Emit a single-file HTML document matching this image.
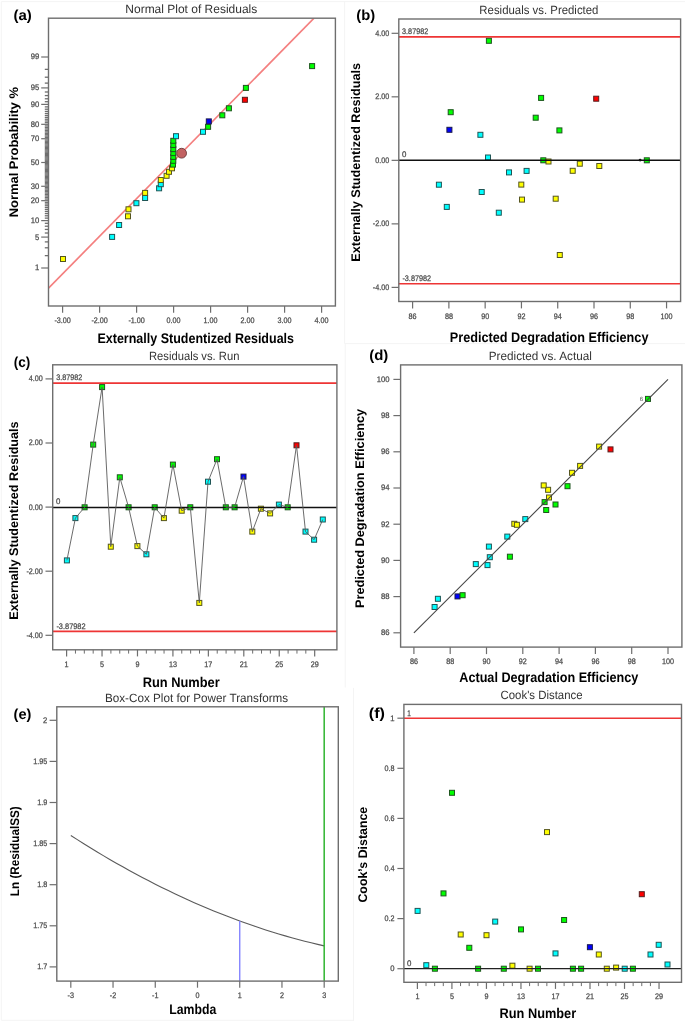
<!DOCTYPE html>
<html><head><meta charset="utf-8"><style>
html,body{margin:0;padding:0;background:#fff;}
svg{display:block;font-family:"Liberation Sans", sans-serif;filter:blur(0.4px);text-rendering:geometricPrecision;}
</style></head><body>
<svg width="685" height="1027" viewBox="0 0 685 1027">
<rect width="685" height="1027" fill="#fff"/>
<line x1="1.3" y1="1.6" x2="685" y2="1.6" stroke="#f4f4f4" stroke-width="1"/>
<line x1="1.3" y1="1.6" x2="1.3" y2="1020.3" stroke="#f4f4f4" stroke-width="1"/>
<line x1="344.6" y1="1.6" x2="344.6" y2="343.6" stroke="#f4f4f4" stroke-width="1"/>
<line x1="344.6" y1="343.6" x2="685" y2="343.6" stroke="#f4f4f4" stroke-width="1"/>
<line x1="345.2" y1="343.6" x2="345.2" y2="687.5" stroke="#f4f4f4" stroke-width="1"/>
<line x1="353.5" y1="687.9" x2="353.5" y2="1021" stroke="#f4f4f4" stroke-width="1"/>
<line x1="1.3" y1="1020.3" x2="353.5" y2="1020.3" stroke="#f4f4f4" stroke-width="1"/>
<clipPath id="ca"><rect x="48.5" y="18.2" width="286.9" height="287.8"/></clipPath>
<line x1="48.5" y1="288.2" x2="314" y2="18.2" stroke="#f47f7f" stroke-width="1.7" clip-path="url(#ca)"/>
<line x1="41.2" y1="268" x2="48.5" y2="268" stroke="#6e6e6e" stroke-width="1.2" />
<text x="39.3" y="270.43" font-size="8.0" text-anchor="end" textLength="4.26" lengthAdjust="spacingAndGlyphs" fill="#4a4a4a" stroke="#4a4a4a" stroke-width="0.25">1</text>
<line x1="44.8" y1="255.64" x2="48.5" y2="255.64" stroke="#6e6e6e" stroke-width="1.3" />
<line x1="44.8" y1="247.79" x2="48.5" y2="247.79" stroke="#6e6e6e" stroke-width="1.3" />
<line x1="44.8" y1="241.89" x2="48.5" y2="241.89" stroke="#6e6e6e" stroke-width="1.3" />
<line x1="41.2" y1="237.09" x2="48.5" y2="237.09" stroke="#6e6e6e" stroke-width="1.2" />
<text x="39.3" y="239.52" font-size="8.0" text-anchor="end" textLength="4.26" lengthAdjust="spacingAndGlyphs" fill="#4a4a4a" stroke="#4a4a4a" stroke-width="0.25">5</text>
<line x1="44.8" y1="233.01" x2="48.5" y2="233.01" stroke="#6e6e6e" stroke-width="1.3" />
<line x1="44.8" y1="229.43" x2="48.5" y2="229.43" stroke="#6e6e6e" stroke-width="1.3" />
<line x1="44.8" y1="226.22" x2="48.5" y2="226.22" stroke="#6e6e6e" stroke-width="1.3" />
<line x1="44.8" y1="223.3" x2="48.5" y2="223.3" stroke="#6e6e6e" stroke-width="1.3" />
<line x1="41.2" y1="220.62" x2="48.5" y2="220.62" stroke="#6e6e6e" stroke-width="1.2" />
<text x="39.3" y="223.05" font-size="8.0" text-anchor="end" textLength="8.52" lengthAdjust="spacingAndGlyphs" fill="#4a4a4a" stroke="#4a4a4a" stroke-width="0.25">10</text>
<line x1="44.8" y1="218.12" x2="48.5" y2="218.12" stroke="#6e6e6e" stroke-width="1.3" />
<line x1="44.8" y1="215.79" x2="48.5" y2="215.79" stroke="#6e6e6e" stroke-width="1.3" />
<line x1="44.8" y1="213.58" x2="48.5" y2="213.58" stroke="#6e6e6e" stroke-width="1.3" />
<line x1="44.8" y1="211.49" x2="48.5" y2="211.49" stroke="#6e6e6e" stroke-width="1.3" />
<line x1="44.8" y1="209.5" x2="48.5" y2="209.5" stroke="#6e6e6e" stroke-width="1.3" />
<line x1="44.8" y1="207.6" x2="48.5" y2="207.6" stroke="#6e6e6e" stroke-width="1.3" />
<line x1="44.8" y1="205.77" x2="48.5" y2="205.77" stroke="#6e6e6e" stroke-width="1.3" />
<line x1="44.8" y1="204.01" x2="48.5" y2="204.01" stroke="#6e6e6e" stroke-width="1.3" />
<line x1="44.8" y1="202.31" x2="48.5" y2="202.31" stroke="#6e6e6e" stroke-width="1.3" />
<line x1="41.2" y1="200.67" x2="48.5" y2="200.67" stroke="#6e6e6e" stroke-width="1.2" />
<text x="39.3" y="203.1" font-size="8.0" text-anchor="end" textLength="8.52" lengthAdjust="spacingAndGlyphs" fill="#4a4a4a" stroke="#4a4a4a" stroke-width="0.25">20</text>
<line x1="44.8" y1="199.07" x2="48.5" y2="199.07" stroke="#6e6e6e" stroke-width="1.3" />
<line x1="44.8" y1="197.52" x2="48.5" y2="197.52" stroke="#6e6e6e" stroke-width="1.3" />
<line x1="44.8" y1="196.01" x2="48.5" y2="196.01" stroke="#6e6e6e" stroke-width="1.3" />
<line x1="44.8" y1="194.53" x2="48.5" y2="194.53" stroke="#6e6e6e" stroke-width="1.3" />
<line x1="44.8" y1="193.09" x2="48.5" y2="193.09" stroke="#6e6e6e" stroke-width="1.3" />
<line x1="44.8" y1="191.68" x2="48.5" y2="191.68" stroke="#6e6e6e" stroke-width="1.3" />
<line x1="44.8" y1="190.29" x2="48.5" y2="190.29" stroke="#6e6e6e" stroke-width="1.3" />
<line x1="44.8" y1="188.93" x2="48.5" y2="188.93" stroke="#6e6e6e" stroke-width="1.3" />
<line x1="44.8" y1="187.6" x2="48.5" y2="187.6" stroke="#6e6e6e" stroke-width="1.3" />
<line x1="41.2" y1="186.28" x2="48.5" y2="186.28" stroke="#6e6e6e" stroke-width="1.2" />
<text x="39.3" y="188.71" font-size="8.0" text-anchor="end" textLength="8.52" lengthAdjust="spacingAndGlyphs" fill="#4a4a4a" stroke="#4a4a4a" stroke-width="0.25">30</text>
<line x1="44.8" y1="184.99" x2="48.5" y2="184.99" stroke="#6e6e6e" stroke-width="1.3" />
<line x1="44.8" y1="183.71" x2="48.5" y2="183.71" stroke="#6e6e6e" stroke-width="1.3" />
<line x1="44.8" y1="182.45" x2="48.5" y2="182.45" stroke="#6e6e6e" stroke-width="1.3" />
<line x1="44.8" y1="181.21" x2="48.5" y2="181.21" stroke="#6e6e6e" stroke-width="1.3" />
<line x1="44.8" y1="179.97" x2="48.5" y2="179.97" stroke="#6e6e6e" stroke-width="1.3" />
<line x1="44.8" y1="178.76" x2="48.5" y2="178.76" stroke="#6e6e6e" stroke-width="1.3" />
<line x1="44.8" y1="177.55" x2="48.5" y2="177.55" stroke="#6e6e6e" stroke-width="1.3" />
<line x1="44.8" y1="176.35" x2="48.5" y2="176.35" stroke="#6e6e6e" stroke-width="1.3" />
<line x1="44.8" y1="175.17" x2="48.5" y2="175.17" stroke="#6e6e6e" stroke-width="1.3" />
<line x1="44.8" y1="173.99" x2="48.5" y2="173.99" stroke="#6e6e6e" stroke-width="1.3" />
<line x1="44.8" y1="172.82" x2="48.5" y2="172.82" stroke="#6e6e6e" stroke-width="1.3" />
<line x1="44.8" y1="171.66" x2="48.5" y2="171.66" stroke="#6e6e6e" stroke-width="1.3" />
<line x1="44.8" y1="170.5" x2="48.5" y2="170.5" stroke="#6e6e6e" stroke-width="1.3" />
<line x1="44.8" y1="169.35" x2="48.5" y2="169.35" stroke="#6e6e6e" stroke-width="1.3" />
<line x1="44.8" y1="168.2" x2="48.5" y2="168.2" stroke="#6e6e6e" stroke-width="1.3" />
<line x1="44.8" y1="167.05" x2="48.5" y2="167.05" stroke="#6e6e6e" stroke-width="1.3" />
<line x1="44.8" y1="165.91" x2="48.5" y2="165.91" stroke="#6e6e6e" stroke-width="1.3" />
<line x1="44.8" y1="164.77" x2="48.5" y2="164.77" stroke="#6e6e6e" stroke-width="1.3" />
<line x1="44.8" y1="163.64" x2="48.5" y2="163.64" stroke="#6e6e6e" stroke-width="1.3" />
<line x1="41.2" y1="162.5" x2="48.5" y2="162.5" stroke="#6e6e6e" stroke-width="1.2" />
<text x="39.3" y="164.93" font-size="8.0" text-anchor="end" textLength="8.52" lengthAdjust="spacingAndGlyphs" fill="#4a4a4a" stroke="#4a4a4a" stroke-width="0.25">50</text>
<line x1="44.8" y1="161.36" x2="48.5" y2="161.36" stroke="#6e6e6e" stroke-width="1.3" />
<line x1="44.8" y1="160.23" x2="48.5" y2="160.23" stroke="#6e6e6e" stroke-width="1.3" />
<line x1="44.8" y1="159.09" x2="48.5" y2="159.09" stroke="#6e6e6e" stroke-width="1.3" />
<line x1="44.8" y1="157.95" x2="48.5" y2="157.95" stroke="#6e6e6e" stroke-width="1.3" />
<line x1="44.8" y1="156.8" x2="48.5" y2="156.8" stroke="#6e6e6e" stroke-width="1.3" />
<line x1="44.8" y1="155.65" x2="48.5" y2="155.65" stroke="#6e6e6e" stroke-width="1.3" />
<line x1="44.8" y1="154.5" x2="48.5" y2="154.5" stroke="#6e6e6e" stroke-width="1.3" />
<line x1="44.8" y1="153.34" x2="48.5" y2="153.34" stroke="#6e6e6e" stroke-width="1.3" />
<line x1="44.8" y1="152.18" x2="48.5" y2="152.18" stroke="#6e6e6e" stroke-width="1.3" />
<line x1="44.8" y1="151.01" x2="48.5" y2="151.01" stroke="#6e6e6e" stroke-width="1.3" />
<line x1="44.8" y1="149.83" x2="48.5" y2="149.83" stroke="#6e6e6e" stroke-width="1.3" />
<line x1="44.8" y1="148.65" x2="48.5" y2="148.65" stroke="#6e6e6e" stroke-width="1.3" />
<line x1="44.8" y1="147.45" x2="48.5" y2="147.45" stroke="#6e6e6e" stroke-width="1.3" />
<line x1="44.8" y1="146.24" x2="48.5" y2="146.24" stroke="#6e6e6e" stroke-width="1.3" />
<line x1="44.8" y1="145.03" x2="48.5" y2="145.03" stroke="#6e6e6e" stroke-width="1.3" />
<line x1="44.8" y1="143.79" x2="48.5" y2="143.79" stroke="#6e6e6e" stroke-width="1.3" />
<line x1="44.8" y1="142.55" x2="48.5" y2="142.55" stroke="#6e6e6e" stroke-width="1.3" />
<line x1="44.8" y1="141.29" x2="48.5" y2="141.29" stroke="#6e6e6e" stroke-width="1.3" />
<line x1="44.8" y1="140.01" x2="48.5" y2="140.01" stroke="#6e6e6e" stroke-width="1.3" />
<line x1="41.2" y1="138.72" x2="48.5" y2="138.72" stroke="#6e6e6e" stroke-width="1.2" />
<text x="39.3" y="141.15" font-size="8.0" text-anchor="end" textLength="8.52" lengthAdjust="spacingAndGlyphs" fill="#4a4a4a" stroke="#4a4a4a" stroke-width="0.25">70</text>
<line x1="44.8" y1="137.4" x2="48.5" y2="137.4" stroke="#6e6e6e" stroke-width="1.3" />
<line x1="44.8" y1="136.07" x2="48.5" y2="136.07" stroke="#6e6e6e" stroke-width="1.3" />
<line x1="44.8" y1="134.71" x2="48.5" y2="134.71" stroke="#6e6e6e" stroke-width="1.3" />
<line x1="44.8" y1="133.32" x2="48.5" y2="133.32" stroke="#6e6e6e" stroke-width="1.3" />
<line x1="44.8" y1="131.91" x2="48.5" y2="131.91" stroke="#6e6e6e" stroke-width="1.3" />
<line x1="44.8" y1="130.47" x2="48.5" y2="130.47" stroke="#6e6e6e" stroke-width="1.3" />
<line x1="44.8" y1="128.99" x2="48.5" y2="128.99" stroke="#6e6e6e" stroke-width="1.3" />
<line x1="44.8" y1="127.48" x2="48.5" y2="127.48" stroke="#6e6e6e" stroke-width="1.3" />
<line x1="44.8" y1="125.93" x2="48.5" y2="125.93" stroke="#6e6e6e" stroke-width="1.3" />
<line x1="41.2" y1="124.33" x2="48.5" y2="124.33" stroke="#6e6e6e" stroke-width="1.2" />
<text x="39.3" y="126.76" font-size="8.0" text-anchor="end" textLength="8.52" lengthAdjust="spacingAndGlyphs" fill="#4a4a4a" stroke="#4a4a4a" stroke-width="0.25">80</text>
<line x1="44.8" y1="122.69" x2="48.5" y2="122.69" stroke="#6e6e6e" stroke-width="1.3" />
<line x1="44.8" y1="120.99" x2="48.5" y2="120.99" stroke="#6e6e6e" stroke-width="1.3" />
<line x1="44.8" y1="119.23" x2="48.5" y2="119.23" stroke="#6e6e6e" stroke-width="1.3" />
<line x1="44.8" y1="117.4" x2="48.5" y2="117.4" stroke="#6e6e6e" stroke-width="1.3" />
<line x1="44.8" y1="115.5" x2="48.5" y2="115.5" stroke="#6e6e6e" stroke-width="1.3" />
<line x1="44.8" y1="113.51" x2="48.5" y2="113.51" stroke="#6e6e6e" stroke-width="1.3" />
<line x1="44.8" y1="111.42" x2="48.5" y2="111.42" stroke="#6e6e6e" stroke-width="1.3" />
<line x1="44.8" y1="109.21" x2="48.5" y2="109.21" stroke="#6e6e6e" stroke-width="1.3" />
<line x1="44.8" y1="106.88" x2="48.5" y2="106.88" stroke="#6e6e6e" stroke-width="1.3" />
<line x1="41.2" y1="104.38" x2="48.5" y2="104.38" stroke="#6e6e6e" stroke-width="1.2" />
<text x="39.3" y="106.81" font-size="8.0" text-anchor="end" textLength="8.52" lengthAdjust="spacingAndGlyphs" fill="#4a4a4a" stroke="#4a4a4a" stroke-width="0.25">90</text>
<line x1="44.8" y1="101.7" x2="48.5" y2="101.7" stroke="#6e6e6e" stroke-width="1.3" />
<line x1="44.8" y1="98.78" x2="48.5" y2="98.78" stroke="#6e6e6e" stroke-width="1.3" />
<line x1="44.8" y1="95.57" x2="48.5" y2="95.57" stroke="#6e6e6e" stroke-width="1.3" />
<line x1="44.8" y1="91.99" x2="48.5" y2="91.99" stroke="#6e6e6e" stroke-width="1.3" />
<line x1="41.2" y1="87.91" x2="48.5" y2="87.91" stroke="#6e6e6e" stroke-width="1.2" />
<text x="39.3" y="90.34" font-size="8.0" text-anchor="end" textLength="8.52" lengthAdjust="spacingAndGlyphs" fill="#4a4a4a" stroke="#4a4a4a" stroke-width="0.25">95</text>
<line x1="44.8" y1="83.11" x2="48.5" y2="83.11" stroke="#6e6e6e" stroke-width="1.3" />
<line x1="44.8" y1="77.21" x2="48.5" y2="77.21" stroke="#6e6e6e" stroke-width="1.3" />
<line x1="44.8" y1="69.36" x2="48.5" y2="69.36" stroke="#6e6e6e" stroke-width="1.3" />
<line x1="41.2" y1="57" x2="48.5" y2="57" stroke="#6e6e6e" stroke-width="1.2" />
<text x="39.3" y="59.43" font-size="8.0" text-anchor="end" textLength="8.52" lengthAdjust="spacingAndGlyphs" fill="#4a4a4a" stroke="#4a4a4a" stroke-width="0.25">99</text>
<line x1="62.6" y1="306" x2="62.6" y2="312.7" stroke="#6e6e6e" stroke-width="1.2" />
<text x="62.6" y="323.08" font-size="8.0" text-anchor="middle" textLength="16.41" lengthAdjust="spacingAndGlyphs" fill="#4a4a4a" stroke="#4a4a4a" stroke-width="0.25">-3.00</text>
<line x1="99.6" y1="306" x2="99.6" y2="312.7" stroke="#6e6e6e" stroke-width="1.2" />
<text x="99.6" y="323.08" font-size="8.0" text-anchor="middle" textLength="16.41" lengthAdjust="spacingAndGlyphs" fill="#4a4a4a" stroke="#4a4a4a" stroke-width="0.25">-2.00</text>
<line x1="136.6" y1="306" x2="136.6" y2="312.7" stroke="#6e6e6e" stroke-width="1.2" />
<text x="136.6" y="323.08" font-size="8.0" text-anchor="middle" textLength="16.41" lengthAdjust="spacingAndGlyphs" fill="#4a4a4a" stroke="#4a4a4a" stroke-width="0.25">-1.00</text>
<line x1="173.6" y1="306" x2="173.6" y2="312.7" stroke="#6e6e6e" stroke-width="1.2" />
<text x="173.6" y="323.08" font-size="8.0" text-anchor="middle" textLength="14.01" lengthAdjust="spacingAndGlyphs" fill="#4a4a4a" stroke="#4a4a4a" stroke-width="0.25">0.00</text>
<line x1="210.6" y1="306" x2="210.6" y2="312.7" stroke="#6e6e6e" stroke-width="1.2" />
<text x="210.6" y="323.08" font-size="8.0" text-anchor="middle" textLength="14.01" lengthAdjust="spacingAndGlyphs" fill="#4a4a4a" stroke="#4a4a4a" stroke-width="0.25">1.00</text>
<line x1="247.6" y1="306" x2="247.6" y2="312.7" stroke="#6e6e6e" stroke-width="1.2" />
<text x="247.6" y="323.08" font-size="8.0" text-anchor="middle" textLength="14.01" lengthAdjust="spacingAndGlyphs" fill="#4a4a4a" stroke="#4a4a4a" stroke-width="0.25">2.00</text>
<line x1="284.6" y1="306" x2="284.6" y2="312.7" stroke="#6e6e6e" stroke-width="1.2" />
<text x="284.6" y="323.08" font-size="8.0" text-anchor="middle" textLength="14.01" lengthAdjust="spacingAndGlyphs" fill="#4a4a4a" stroke="#4a4a4a" stroke-width="0.25">3.00</text>
<line x1="321.6" y1="306" x2="321.6" y2="312.7" stroke="#6e6e6e" stroke-width="1.2" />
<text x="321.6" y="323.08" font-size="8.0" text-anchor="middle" textLength="14.01" lengthAdjust="spacingAndGlyphs" fill="#4a4a4a" stroke="#4a4a4a" stroke-width="0.25">4.00</text>
<rect x="60.5" y="256.5" width="5.0" height="5.0" fill="#ffff00" stroke="#55551f" stroke-width="1.0"/>
<rect x="109.6" y="234.4" width="5.0" height="5.0" fill="#00ffff" stroke="#1f5555" stroke-width="1.0"/>
<rect x="116.6" y="222.5" width="5.0" height="5.0" fill="#00ffff" stroke="#1f5555" stroke-width="1.0"/>
<rect x="125.5" y="213.8" width="5.0" height="5.0" fill="#ffff00" stroke="#55551f" stroke-width="1.0"/>
<rect x="126" y="206.8" width="5.0" height="5.0" fill="#ffff00" stroke="#55551f" stroke-width="1.0"/>
<rect x="133.9" y="200.7" width="5.0" height="5.0" fill="#00ffff" stroke="#1f5555" stroke-width="1.0"/>
<rect x="142.6" y="195.5" width="5.0" height="5.0" fill="#00ffff" stroke="#1f5555" stroke-width="1.0"/>
<rect x="142.6" y="190.4" width="5.0" height="5.0" fill="#ffff00" stroke="#55551f" stroke-width="1.0"/>
<rect x="156.6" y="185.8" width="5.0" height="5.0" fill="#00ffff" stroke="#1f5555" stroke-width="1.0"/>
<rect x="158.3" y="181.7" width="5.0" height="5.0" fill="#00ffff" stroke="#1f5555" stroke-width="1.0"/>
<rect x="158.3" y="177.5" width="5.0" height="5.0" fill="#ffff00" stroke="#55551f" stroke-width="1.0"/>
<rect x="164.1" y="173.3" width="5.0" height="5.0" fill="#ffff00" stroke="#55551f" stroke-width="1.0"/>
<rect x="166.5" y="169.3" width="5.0" height="5.0" fill="#ffff00" stroke="#55551f" stroke-width="1.0"/>
<rect x="169.5" y="165.8" width="5.0" height="5.0" fill="#ffff00" stroke="#55551f" stroke-width="1.0"/>
<rect x="170.5" y="162.1" width="5.0" height="5.0" fill="#00ff00" stroke="#1f551f" stroke-width="1.0"/>
<rect x="170.8" y="158.3" width="5.0" height="5.0" fill="#00ff00" stroke="#1f551f" stroke-width="1.0"/>
<rect x="170.8" y="154.4" width="5.0" height="5.0" fill="#00ff00" stroke="#1f551f" stroke-width="1.0"/>
<rect x="170.8" y="150.6" width="5.0" height="5.0" fill="#00ff00" stroke="#1f551f" stroke-width="1.0"/>
<rect x="170.8" y="146.6" width="5.0" height="5.0" fill="#00ff00" stroke="#1f551f" stroke-width="1.0"/>
<rect x="170.8" y="142.5" width="5.0" height="5.0" fill="#00ff00" stroke="#1f551f" stroke-width="1.0"/>
<rect x="170.8" y="138.3" width="5.0" height="5.0" fill="#00ff00" stroke="#1f551f" stroke-width="1.0"/>
<rect x="173.5" y="133.7" width="5.0" height="5.0" fill="#00ffff" stroke="#1f5555" stroke-width="1.0"/>
<rect x="200.5" y="129.3" width="5.0" height="5.0" fill="#00ffff" stroke="#1f5555" stroke-width="1.0"/>
<rect x="205.6" y="124.3" width="5.0" height="5.0" fill="#00ff00" stroke="#1f551f" stroke-width="1.0"/>
<rect x="206.3" y="118.9" width="5.0" height="5.0" fill="#0000ff" stroke="#1a1a4a" stroke-width="1.0"/>
<rect x="219.8" y="112.8" width="5.0" height="5.0" fill="#00ff00" stroke="#1f551f" stroke-width="1.0"/>
<rect x="226.4" y="105.8" width="5.0" height="5.0" fill="#00ff00" stroke="#1f551f" stroke-width="1.0"/>
<rect x="242.4" y="97.3" width="5.0" height="5.0" fill="#ff0000" stroke="#551f1f" stroke-width="1.0"/>
<rect x="243.4" y="85.4" width="5.0" height="5.0" fill="#00ff00" stroke="#1f551f" stroke-width="1.0"/>
<rect x="309.6" y="63.6" width="5.0" height="5.0" fill="#00ff00" stroke="#1f551f" stroke-width="1.0"/>
<circle cx="181.6" cy="153.2" r="4.9" fill="#c26262" stroke="#6b3b3b" stroke-width="0.9"/>
<rect x="48.5" y="18.2" width="286.9" height="287.8" fill="none" stroke="#6e6e6e" stroke-width="1.4"/>
<text x="125.32" y="12.8" font-size="12" fill="#333" textLength="131.92" lengthAdjust="spacingAndGlyphs">Normal Plot of Residuals</text>
<text x="97.46" y="342.5" font-size="14.0" font-weight="bold" fill="#000" textLength="196.55" lengthAdjust="spacingAndGlyphs">Externally Studentized Residuals</text>
<text transform="translate(18.1,217.37) rotate(-90)" x="0" y="0" font-size="12.5" font-weight="bold" fill="#000" textLength="130.31" lengthAdjust="spacingAndGlyphs">Normal Probability %</text>
<text x="13.45" y="19.6" font-size="14.6" font-weight="bold" fill="#000" textLength="18.29" lengthAdjust="spacingAndGlyphs">(a)</text>
<line x1="391.6" y1="33.31" x2="398.8" y2="33.31" stroke="#6e6e6e" stroke-width="1.2" />
<text x="389.2" y="35.74" font-size="8.0" text-anchor="end" textLength="14.01" lengthAdjust="spacingAndGlyphs" fill="#4a4a4a" stroke="#4a4a4a" stroke-width="0.25">4.00</text>
<line x1="391.6" y1="96.83" x2="398.8" y2="96.83" stroke="#6e6e6e" stroke-width="1.2" />
<text x="389.2" y="99.26" font-size="8.0" text-anchor="end" textLength="14.01" lengthAdjust="spacingAndGlyphs" fill="#4a4a4a" stroke="#4a4a4a" stroke-width="0.25">2.00</text>
<line x1="391.6" y1="160.35" x2="398.8" y2="160.35" stroke="#6e6e6e" stroke-width="1.2" />
<text x="389.2" y="162.78" font-size="8.0" text-anchor="end" textLength="14.01" lengthAdjust="spacingAndGlyphs" fill="#4a4a4a" stroke="#4a4a4a" stroke-width="0.25">0.00</text>
<line x1="391.6" y1="223.87" x2="398.8" y2="223.87" stroke="#6e6e6e" stroke-width="1.2" />
<text x="389.2" y="226.3" font-size="8.0" text-anchor="end" textLength="16.41" lengthAdjust="spacingAndGlyphs" fill="#4a4a4a" stroke="#4a4a4a" stroke-width="0.25">-2.00</text>
<line x1="391.6" y1="287.39" x2="398.8" y2="287.39" stroke="#6e6e6e" stroke-width="1.2" />
<text x="389.2" y="289.82" font-size="8.0" text-anchor="end" textLength="16.41" lengthAdjust="spacingAndGlyphs" fill="#4a4a4a" stroke="#4a4a4a" stroke-width="0.25">-4.00</text>
<line x1="412.6" y1="301.5" x2="412.6" y2="308.4" stroke="#6e6e6e" stroke-width="1.2" />
<text x="412.6" y="318.68" font-size="8.0" text-anchor="middle" textLength="8.01" lengthAdjust="spacingAndGlyphs" fill="#4a4a4a" stroke="#4a4a4a" stroke-width="0.25">86</text>
<line x1="448.88" y1="301.5" x2="448.88" y2="308.4" stroke="#6e6e6e" stroke-width="1.2" />
<text x="448.88" y="318.68" font-size="8.0" text-anchor="middle" textLength="8.01" lengthAdjust="spacingAndGlyphs" fill="#4a4a4a" stroke="#4a4a4a" stroke-width="0.25">88</text>
<line x1="485.16" y1="301.5" x2="485.16" y2="308.4" stroke="#6e6e6e" stroke-width="1.2" />
<text x="485.16" y="318.68" font-size="8.0" text-anchor="middle" textLength="8.01" lengthAdjust="spacingAndGlyphs" fill="#4a4a4a" stroke="#4a4a4a" stroke-width="0.25">90</text>
<line x1="521.44" y1="301.5" x2="521.44" y2="308.4" stroke="#6e6e6e" stroke-width="1.2" />
<text x="521.44" y="318.68" font-size="8.0" text-anchor="middle" textLength="8.01" lengthAdjust="spacingAndGlyphs" fill="#4a4a4a" stroke="#4a4a4a" stroke-width="0.25">92</text>
<line x1="557.72" y1="301.5" x2="557.72" y2="308.4" stroke="#6e6e6e" stroke-width="1.2" />
<text x="557.72" y="318.68" font-size="8.0" text-anchor="middle" textLength="8.01" lengthAdjust="spacingAndGlyphs" fill="#4a4a4a" stroke="#4a4a4a" stroke-width="0.25">94</text>
<line x1="594" y1="301.5" x2="594" y2="308.4" stroke="#6e6e6e" stroke-width="1.2" />
<text x="594" y="318.68" font-size="8.0" text-anchor="middle" textLength="8.01" lengthAdjust="spacingAndGlyphs" fill="#4a4a4a" stroke="#4a4a4a" stroke-width="0.25">96</text>
<line x1="630.28" y1="301.5" x2="630.28" y2="308.4" stroke="#6e6e6e" stroke-width="1.2" />
<text x="630.28" y="318.68" font-size="8.0" text-anchor="middle" textLength="8.01" lengthAdjust="spacingAndGlyphs" fill="#4a4a4a" stroke="#4a4a4a" stroke-width="0.25">98</text>
<line x1="666.56" y1="301.5" x2="666.56" y2="308.4" stroke="#6e6e6e" stroke-width="1.2" />
<text x="666.56" y="318.68" font-size="8.0" text-anchor="middle" textLength="12.01" lengthAdjust="spacingAndGlyphs" fill="#4a4a4a" stroke="#4a4a4a" stroke-width="0.25">100</text>
<line x1="398.8" y1="36.9" x2="680.6" y2="36.9" stroke="#ee3535" stroke-width="1.6" />
<line x1="398.8" y1="283.8" x2="680.6" y2="283.8" stroke="#ee3535" stroke-width="1.6" />
<text x="402.1" y="33.92" font-size="8.1" textLength="26.1" lengthAdjust="spacingAndGlyphs" fill="#4a4a4a" stroke="#4a4a4a" stroke-width="0.25">3.87982</text>
<text x="402.4" y="281.12" font-size="8.1" textLength="28.7" lengthAdjust="spacingAndGlyphs" fill="#4a4a4a" stroke="#4a4a4a" stroke-width="0.25">-3.87982</text>
<text x="402.1" y="156.92" font-size="8.1" textLength="4.4" lengthAdjust="spacingAndGlyphs" fill="#4a4a4a" stroke="#4a4a4a" stroke-width="0.25">0</text>
<rect x="486.4" y="38.3" width="5.0" height="5.0" fill="#00ff00" stroke="#1f551f" stroke-width="1.0"/>
<rect x="538.6" y="95.4" width="5.0" height="5.0" fill="#00ff00" stroke="#1f551f" stroke-width="1.0"/>
<rect x="593.7" y="96.2" width="5.0" height="5.0" fill="#ff0000" stroke="#551f1f" stroke-width="1.0"/>
<rect x="448.2" y="109.7" width="5.0" height="5.0" fill="#00ff00" stroke="#1f551f" stroke-width="1.0"/>
<rect x="533.2" y="115.2" width="5.0" height="5.0" fill="#00ff00" stroke="#1f551f" stroke-width="1.0"/>
<rect x="446.9" y="127.3" width="5.0" height="5.0" fill="#0000ff" stroke="#1a1a4a" stroke-width="1.0"/>
<rect x="556.9" y="127.9" width="5.0" height="5.0" fill="#00ff00" stroke="#1f551f" stroke-width="1.0"/>
<rect x="477.9" y="132.3" width="5.0" height="5.0" fill="#00ffff" stroke="#1f5555" stroke-width="1.0"/>
<rect x="485.5" y="155" width="5.0" height="5.0" fill="#00ffff" stroke="#1f5555" stroke-width="1.0"/>
<rect x="540.8" y="157.8" width="5.0" height="5.0" fill="#00ff00" stroke="#1f551f" stroke-width="1.0"/>
<rect x="546" y="159" width="5.0" height="5.0" fill="#ffff00" stroke="#55551f" stroke-width="1.0"/>
<rect x="577.3" y="161.2" width="5.0" height="5.0" fill="#ffff00" stroke="#55551f" stroke-width="1.0"/>
<rect x="596.8" y="163.5" width="5.0" height="5.0" fill="#ffff00" stroke="#55551f" stroke-width="1.0"/>
<rect x="644.3" y="157.8" width="5.0" height="5.0" fill="#00ff00" stroke="#1f551f" stroke-width="1.0"/>
<rect x="506.5" y="169.9" width="5.0" height="5.0" fill="#00ffff" stroke="#1f5555" stroke-width="1.0"/>
<rect x="524.1" y="168.4" width="5.0" height="5.0" fill="#00ffff" stroke="#1f5555" stroke-width="1.0"/>
<rect x="570.2" y="168.3" width="5.0" height="5.0" fill="#ffff00" stroke="#55551f" stroke-width="1.0"/>
<rect x="436.4" y="182.2" width="5.0" height="5.0" fill="#00ffff" stroke="#1f5555" stroke-width="1.0"/>
<rect x="518.8" y="182.1" width="5.0" height="5.0" fill="#ffff00" stroke="#55551f" stroke-width="1.0"/>
<rect x="479.2" y="189.5" width="5.0" height="5.0" fill="#00ffff" stroke="#1f5555" stroke-width="1.0"/>
<rect x="519.5" y="197.1" width="5.0" height="5.0" fill="#ffff00" stroke="#55551f" stroke-width="1.0"/>
<rect x="553.2" y="196.2" width="5.0" height="5.0" fill="#ffff00" stroke="#55551f" stroke-width="1.0"/>
<rect x="444.3" y="204.4" width="5.0" height="5.0" fill="#00ffff" stroke="#1f5555" stroke-width="1.0"/>
<rect x="496.3" y="210.2" width="5.0" height="5.0" fill="#00ffff" stroke="#1f5555" stroke-width="1.0"/>
<rect x="557.3" y="252.5" width="5.0" height="5.0" fill="#ffff00" stroke="#55551f" stroke-width="1.0"/>
<line x1="398.8" y1="160.3" x2="680.6" y2="160.3" stroke="#111" stroke-width="1.4" />
<circle cx="640.1" cy="160.1" r="1.4" fill="#111"/>
<rect x="398.8" y="19" width="281.8" height="282.5" fill="none" stroke="#6e6e6e" stroke-width="1.4"/>
<text x="479.37" y="13.6" font-size="12" fill="#333" textLength="119.07" lengthAdjust="spacingAndGlyphs">Residuals vs. Predicted</text>
<text x="449.85" y="341.7" font-size="14.0" font-weight="bold" fill="#000" textLength="198.62" lengthAdjust="spacingAndGlyphs">Predicted Degradation Efficiency</text>
<text transform="translate(360.4,261.75) rotate(-90)" x="0" y="0" font-size="12.5" font-weight="bold" fill="#000" textLength="198.86" lengthAdjust="spacingAndGlyphs">Externally Studentized Residuals</text>
<text x="356.26" y="19.7" font-size="14.6" font-weight="bold" fill="#000" textLength="18.87" lengthAdjust="spacingAndGlyphs">(b)</text>
<line x1="45.5" y1="378.9" x2="52.7" y2="378.9" stroke="#6e6e6e" stroke-width="1.2" />
<text x="42.8" y="381.33" font-size="8.0" text-anchor="end" textLength="14.01" lengthAdjust="spacingAndGlyphs" fill="#4a4a4a" stroke="#4a4a4a" stroke-width="0.25">4.00</text>
<line x1="45.5" y1="443" x2="52.7" y2="443" stroke="#6e6e6e" stroke-width="1.2" />
<text x="42.8" y="445.43" font-size="8.0" text-anchor="end" textLength="14.01" lengthAdjust="spacingAndGlyphs" fill="#4a4a4a" stroke="#4a4a4a" stroke-width="0.25">2.00</text>
<line x1="45.5" y1="507.1" x2="52.7" y2="507.1" stroke="#6e6e6e" stroke-width="1.2" />
<text x="42.8" y="509.53" font-size="8.0" text-anchor="end" textLength="14.01" lengthAdjust="spacingAndGlyphs" fill="#4a4a4a" stroke="#4a4a4a" stroke-width="0.25">0.00</text>
<line x1="45.5" y1="571.2" x2="52.7" y2="571.2" stroke="#6e6e6e" stroke-width="1.2" />
<text x="42.8" y="573.63" font-size="8.0" text-anchor="end" textLength="16.41" lengthAdjust="spacingAndGlyphs" fill="#4a4a4a" stroke="#4a4a4a" stroke-width="0.25">-2.00</text>
<line x1="45.5" y1="635.3" x2="52.7" y2="635.3" stroke="#6e6e6e" stroke-width="1.2" />
<text x="42.8" y="637.73" font-size="8.0" text-anchor="end" textLength="16.41" lengthAdjust="spacingAndGlyphs" fill="#4a4a4a" stroke="#4a4a4a" stroke-width="0.25">-4.00</text>
<line x1="66.6" y1="649.8" x2="66.6" y2="656.4" stroke="#6e6e6e" stroke-width="1.2" />
<text x="66.6" y="666.98" font-size="8.0" text-anchor="middle" textLength="4" lengthAdjust="spacingAndGlyphs" fill="#4a4a4a" stroke="#4a4a4a" stroke-width="0.25">1</text>
<line x1="75.46" y1="649.8" x2="75.46" y2="653.6" stroke="#6e6e6e" stroke-width="1.0" />
<line x1="84.32" y1="649.8" x2="84.32" y2="653.6" stroke="#6e6e6e" stroke-width="1.0" />
<line x1="93.18" y1="649.8" x2="93.18" y2="653.6" stroke="#6e6e6e" stroke-width="1.0" />
<line x1="102.04" y1="649.8" x2="102.04" y2="656.4" stroke="#6e6e6e" stroke-width="1.2" />
<text x="102.04" y="666.98" font-size="8.0" text-anchor="middle" textLength="4" lengthAdjust="spacingAndGlyphs" fill="#4a4a4a" stroke="#4a4a4a" stroke-width="0.25">5</text>
<line x1="110.9" y1="649.8" x2="110.9" y2="653.6" stroke="#6e6e6e" stroke-width="1.0" />
<line x1="119.76" y1="649.8" x2="119.76" y2="653.6" stroke="#6e6e6e" stroke-width="1.0" />
<line x1="128.62" y1="649.8" x2="128.62" y2="653.6" stroke="#6e6e6e" stroke-width="1.0" />
<line x1="137.48" y1="649.8" x2="137.48" y2="656.4" stroke="#6e6e6e" stroke-width="1.2" />
<text x="137.48" y="666.98" font-size="8.0" text-anchor="middle" textLength="4" lengthAdjust="spacingAndGlyphs" fill="#4a4a4a" stroke="#4a4a4a" stroke-width="0.25">9</text>
<line x1="146.34" y1="649.8" x2="146.34" y2="653.6" stroke="#6e6e6e" stroke-width="1.0" />
<line x1="155.2" y1="649.8" x2="155.2" y2="653.6" stroke="#6e6e6e" stroke-width="1.0" />
<line x1="164.06" y1="649.8" x2="164.06" y2="653.6" stroke="#6e6e6e" stroke-width="1.0" />
<line x1="172.92" y1="649.8" x2="172.92" y2="656.4" stroke="#6e6e6e" stroke-width="1.2" />
<text x="172.92" y="666.98" font-size="8.0" text-anchor="middle" textLength="8.01" lengthAdjust="spacingAndGlyphs" fill="#4a4a4a" stroke="#4a4a4a" stroke-width="0.25">13</text>
<line x1="181.78" y1="649.8" x2="181.78" y2="653.6" stroke="#6e6e6e" stroke-width="1.0" />
<line x1="190.64" y1="649.8" x2="190.64" y2="653.6" stroke="#6e6e6e" stroke-width="1.0" />
<line x1="199.5" y1="649.8" x2="199.5" y2="653.6" stroke="#6e6e6e" stroke-width="1.0" />
<line x1="208.36" y1="649.8" x2="208.36" y2="656.4" stroke="#6e6e6e" stroke-width="1.2" />
<text x="208.36" y="666.98" font-size="8.0" text-anchor="middle" textLength="8.01" lengthAdjust="spacingAndGlyphs" fill="#4a4a4a" stroke="#4a4a4a" stroke-width="0.25">17</text>
<line x1="217.22" y1="649.8" x2="217.22" y2="653.6" stroke="#6e6e6e" stroke-width="1.0" />
<line x1="226.08" y1="649.8" x2="226.08" y2="653.6" stroke="#6e6e6e" stroke-width="1.0" />
<line x1="234.94" y1="649.8" x2="234.94" y2="653.6" stroke="#6e6e6e" stroke-width="1.0" />
<line x1="243.8" y1="649.8" x2="243.8" y2="656.4" stroke="#6e6e6e" stroke-width="1.2" />
<text x="243.8" y="666.98" font-size="8.0" text-anchor="middle" textLength="8.01" lengthAdjust="spacingAndGlyphs" fill="#4a4a4a" stroke="#4a4a4a" stroke-width="0.25">21</text>
<line x1="252.66" y1="649.8" x2="252.66" y2="653.6" stroke="#6e6e6e" stroke-width="1.0" />
<line x1="261.52" y1="649.8" x2="261.52" y2="653.6" stroke="#6e6e6e" stroke-width="1.0" />
<line x1="270.38" y1="649.8" x2="270.38" y2="653.6" stroke="#6e6e6e" stroke-width="1.0" />
<line x1="279.24" y1="649.8" x2="279.24" y2="656.4" stroke="#6e6e6e" stroke-width="1.2" />
<text x="279.24" y="666.98" font-size="8.0" text-anchor="middle" textLength="8.01" lengthAdjust="spacingAndGlyphs" fill="#4a4a4a" stroke="#4a4a4a" stroke-width="0.25">25</text>
<line x1="288.1" y1="649.8" x2="288.1" y2="653.6" stroke="#6e6e6e" stroke-width="1.0" />
<line x1="296.96" y1="649.8" x2="296.96" y2="653.6" stroke="#6e6e6e" stroke-width="1.0" />
<line x1="305.82" y1="649.8" x2="305.82" y2="653.6" stroke="#6e6e6e" stroke-width="1.0" />
<line x1="314.68" y1="649.8" x2="314.68" y2="656.4" stroke="#6e6e6e" stroke-width="1.2" />
<text x="314.68" y="666.98" font-size="8.0" text-anchor="middle" textLength="8.01" lengthAdjust="spacingAndGlyphs" fill="#4a4a4a" stroke="#4a4a4a" stroke-width="0.25">29</text>
<line x1="52.7" y1="383.1" x2="336.9" y2="383.1" stroke="#ee3535" stroke-width="1.6" />
<line x1="52.7" y1="631.4" x2="336.9" y2="631.4" stroke="#ee3535" stroke-width="1.6" />
<text x="56.2" y="380.22" font-size="8.1" textLength="26.1" lengthAdjust="spacingAndGlyphs" fill="#4a4a4a" stroke="#4a4a4a" stroke-width="0.25">3.87982</text>
<text x="56.4" y="628.92" font-size="8.1" textLength="29.2" lengthAdjust="spacingAndGlyphs" fill="#4a4a4a" stroke="#4a4a4a" stroke-width="0.25">-3.87982</text>
<text x="56" y="504.22" font-size="8.1" textLength="4.4" lengthAdjust="spacingAndGlyphs" fill="#4a4a4a" stroke="#4a4a4a" stroke-width="0.25">0</text>
<rect x="64.4" y="557.9" width="5.0" height="5.0" fill="#00ffff" stroke="#1f5555" stroke-width="1.0"/>
<rect x="72.9" y="515.6" width="5.0" height="5.0" fill="#00ffff" stroke="#1f5555" stroke-width="1.0"/>
<rect x="82.1" y="504.8" width="5.0" height="5.0" fill="#00ff00" stroke="#1f551f" stroke-width="1.0"/>
<rect x="90.7" y="442.1" width="5.0" height="5.0" fill="#00ff00" stroke="#1f551f" stroke-width="1.0"/>
<rect x="99.6" y="384.6" width="5.0" height="5.0" fill="#00ff00" stroke="#1f551f" stroke-width="1.0"/>
<rect x="108.3" y="544.2" width="5.0" height="5.0" fill="#ffff00" stroke="#55551f" stroke-width="1.0"/>
<rect x="117.3" y="474.8" width="5.0" height="5.0" fill="#00ff00" stroke="#1f551f" stroke-width="1.0"/>
<rect x="126.1" y="504.8" width="5.0" height="5.0" fill="#00ff00" stroke="#1f551f" stroke-width="1.0"/>
<rect x="134.9" y="543.6" width="5.0" height="5.0" fill="#ffff00" stroke="#55551f" stroke-width="1.0"/>
<rect x="143.9" y="551.8" width="5.0" height="5.0" fill="#00ffff" stroke="#1f5555" stroke-width="1.0"/>
<rect x="152.2" y="504.8" width="5.0" height="5.0" fill="#00ff00" stroke="#1f551f" stroke-width="1.0"/>
<rect x="161.4" y="515.6" width="5.0" height="5.0" fill="#ffff00" stroke="#55551f" stroke-width="1.0"/>
<rect x="170.4" y="462.1" width="5.0" height="5.0" fill="#00ff00" stroke="#1f551f" stroke-width="1.0"/>
<rect x="179.2" y="508.2" width="5.0" height="5.0" fill="#ffff00" stroke="#55551f" stroke-width="1.0"/>
<rect x="187.8" y="504.8" width="5.0" height="5.0" fill="#00ff00" stroke="#1f551f" stroke-width="1.0"/>
<rect x="196.8" y="600.4" width="5.0" height="5.0" fill="#ffff00" stroke="#55551f" stroke-width="1.0"/>
<rect x="205.5" y="479.2" width="5.0" height="5.0" fill="#00ffff" stroke="#1f5555" stroke-width="1.0"/>
<rect x="214.5" y="456.7" width="5.0" height="5.0" fill="#00ff00" stroke="#1f551f" stroke-width="1.0"/>
<rect x="223.3" y="504.8" width="5.0" height="5.0" fill="#00ff00" stroke="#1f551f" stroke-width="1.0"/>
<rect x="232.1" y="504.8" width="5.0" height="5.0" fill="#00ff00" stroke="#1f551f" stroke-width="1.0"/>
<rect x="241" y="474.1" width="5.0" height="5.0" fill="#0000ff" stroke="#1a1a4a" stroke-width="1.0"/>
<rect x="249.8" y="529.1" width="5.0" height="5.0" fill="#ffff00" stroke="#55551f" stroke-width="1.0"/>
<rect x="258.4" y="506.2" width="5.0" height="5.0" fill="#ffff00" stroke="#55551f" stroke-width="1.0"/>
<rect x="267.6" y="510.9" width="5.0" height="5.0" fill="#ffff00" stroke="#55551f" stroke-width="1.0"/>
<rect x="276.4" y="502.1" width="5.0" height="5.0" fill="#00ffff" stroke="#1f5555" stroke-width="1.0"/>
<rect x="285.2" y="504.8" width="5.0" height="5.0" fill="#00ff00" stroke="#1f551f" stroke-width="1.0"/>
<rect x="294" y="442.8" width="5.0" height="5.0" fill="#ff0000" stroke="#551f1f" stroke-width="1.0"/>
<rect x="303" y="529.1" width="5.0" height="5.0" fill="#00ffff" stroke="#1f5555" stroke-width="1.0"/>
<rect x="311.6" y="537.2" width="5.0" height="5.0" fill="#00ffff" stroke="#1f5555" stroke-width="1.0"/>
<rect x="320.3" y="517" width="5.0" height="5.0" fill="#00ffff" stroke="#1f5555" stroke-width="1.0"/>
<line x1="52.7" y1="507.5" x2="336.9" y2="507.5" stroke="#111" stroke-width="1.4" />
<polyline points="66.9,560.4 75.4,518.1 84.6,507.3 93.2,444.6 102.1,387.1 110.8,546.7 119.8,477.3 128.6,507.3 137.4,546.1 146.4,554.3 154.7,507.3 163.9,518.1 172.9,464.6 181.7,510.7 190.3,507.3 199.3,602.9 208,481.7 217,459.2 225.8,507.3 234.6,507.3 243.5,476.6 252.3,531.6 260.9,508.7 270.1,513.4 278.9,504.6 287.7,507.3 296.5,445.3 305.5,531.6 314.1,539.7 322.8,519.5" fill="none" stroke="#5a5a5a" stroke-width="0.9"/>
<rect x="52.7" y="364.8" width="284.2" height="285" fill="none" stroke="#6e6e6e" stroke-width="1.4"/>
<text x="148.98" y="359.5" font-size="12" fill="#333" textLength="90.45" lengthAdjust="spacingAndGlyphs">Residuals vs. Run</text>
<text x="142.64" y="686.8" font-size="14.0" font-weight="bold" fill="#000" textLength="77.05" lengthAdjust="spacingAndGlyphs">Run Number</text>
<text transform="translate(18.1,619.74) rotate(-90)" x="0" y="0" font-size="12.5" font-weight="bold" fill="#000" textLength="198.36" lengthAdjust="spacingAndGlyphs">Externally Studentized Residuals</text>
<text x="13.63" y="367" font-size="14.6" font-weight="bold" fill="#000" textLength="16.55" lengthAdjust="spacingAndGlyphs">(c)</text>
<line x1="393.4" y1="632.8" x2="400.6" y2="632.8" stroke="#6e6e6e" stroke-width="1.2" />
<text x="389.6" y="635.23" font-size="8.0" text-anchor="end" textLength="8.52" lengthAdjust="spacingAndGlyphs" fill="#4a4a4a" stroke="#4a4a4a" stroke-width="0.25">86</text>
<line x1="413.9" y1="647.1" x2="413.9" y2="654.1" stroke="#6e6e6e" stroke-width="1.2" />
<text x="413.9" y="663.68" font-size="8.0" text-anchor="middle" textLength="8.01" lengthAdjust="spacingAndGlyphs" fill="#4a4a4a" stroke="#4a4a4a" stroke-width="0.25">86</text>
<line x1="393.4" y1="596.6" x2="400.6" y2="596.6" stroke="#6e6e6e" stroke-width="1.2" />
<text x="389.6" y="599.03" font-size="8.0" text-anchor="end" textLength="8.52" lengthAdjust="spacingAndGlyphs" fill="#4a4a4a" stroke="#4a4a4a" stroke-width="0.25">88</text>
<line x1="450.2" y1="647.1" x2="450.2" y2="654.1" stroke="#6e6e6e" stroke-width="1.2" />
<text x="450.2" y="663.68" font-size="8.0" text-anchor="middle" textLength="8.01" lengthAdjust="spacingAndGlyphs" fill="#4a4a4a" stroke="#4a4a4a" stroke-width="0.25">88</text>
<line x1="393.4" y1="560.4" x2="400.6" y2="560.4" stroke="#6e6e6e" stroke-width="1.2" />
<text x="389.6" y="562.83" font-size="8.0" text-anchor="end" textLength="8.52" lengthAdjust="spacingAndGlyphs" fill="#4a4a4a" stroke="#4a4a4a" stroke-width="0.25">90</text>
<line x1="486.5" y1="647.1" x2="486.5" y2="654.1" stroke="#6e6e6e" stroke-width="1.2" />
<text x="486.5" y="663.68" font-size="8.0" text-anchor="middle" textLength="8.01" lengthAdjust="spacingAndGlyphs" fill="#4a4a4a" stroke="#4a4a4a" stroke-width="0.25">90</text>
<line x1="393.4" y1="524.2" x2="400.6" y2="524.2" stroke="#6e6e6e" stroke-width="1.2" />
<text x="389.6" y="526.63" font-size="8.0" text-anchor="end" textLength="8.52" lengthAdjust="spacingAndGlyphs" fill="#4a4a4a" stroke="#4a4a4a" stroke-width="0.25">92</text>
<line x1="522.8" y1="647.1" x2="522.8" y2="654.1" stroke="#6e6e6e" stroke-width="1.2" />
<text x="522.8" y="663.68" font-size="8.0" text-anchor="middle" textLength="8.01" lengthAdjust="spacingAndGlyphs" fill="#4a4a4a" stroke="#4a4a4a" stroke-width="0.25">92</text>
<line x1="393.4" y1="488" x2="400.6" y2="488" stroke="#6e6e6e" stroke-width="1.2" />
<text x="389.6" y="490.43" font-size="8.0" text-anchor="end" textLength="8.52" lengthAdjust="spacingAndGlyphs" fill="#4a4a4a" stroke="#4a4a4a" stroke-width="0.25">94</text>
<line x1="559.1" y1="647.1" x2="559.1" y2="654.1" stroke="#6e6e6e" stroke-width="1.2" />
<text x="559.1" y="663.68" font-size="8.0" text-anchor="middle" textLength="8.01" lengthAdjust="spacingAndGlyphs" fill="#4a4a4a" stroke="#4a4a4a" stroke-width="0.25">94</text>
<line x1="393.4" y1="451.8" x2="400.6" y2="451.8" stroke="#6e6e6e" stroke-width="1.2" />
<text x="389.6" y="454.23" font-size="8.0" text-anchor="end" textLength="8.52" lengthAdjust="spacingAndGlyphs" fill="#4a4a4a" stroke="#4a4a4a" stroke-width="0.25">96</text>
<line x1="595.4" y1="647.1" x2="595.4" y2="654.1" stroke="#6e6e6e" stroke-width="1.2" />
<text x="595.4" y="663.68" font-size="8.0" text-anchor="middle" textLength="8.01" lengthAdjust="spacingAndGlyphs" fill="#4a4a4a" stroke="#4a4a4a" stroke-width="0.25">96</text>
<line x1="393.4" y1="415.6" x2="400.6" y2="415.6" stroke="#6e6e6e" stroke-width="1.2" />
<text x="389.6" y="418.03" font-size="8.0" text-anchor="end" textLength="8.52" lengthAdjust="spacingAndGlyphs" fill="#4a4a4a" stroke="#4a4a4a" stroke-width="0.25">98</text>
<line x1="631.7" y1="647.1" x2="631.7" y2="654.1" stroke="#6e6e6e" stroke-width="1.2" />
<text x="631.7" y="663.68" font-size="8.0" text-anchor="middle" textLength="8.01" lengthAdjust="spacingAndGlyphs" fill="#4a4a4a" stroke="#4a4a4a" stroke-width="0.25">98</text>
<line x1="393.4" y1="379.4" x2="400.6" y2="379.4" stroke="#6e6e6e" stroke-width="1.2" />
<text x="389.6" y="381.83" font-size="8.0" text-anchor="end" textLength="12.77" lengthAdjust="spacingAndGlyphs" fill="#4a4a4a" stroke="#4a4a4a" stroke-width="0.25">100</text>
<line x1="668" y1="647.1" x2="668" y2="654.1" stroke="#6e6e6e" stroke-width="1.2" />
<text x="668" y="663.68" font-size="8.0" text-anchor="middle" textLength="12.01" lengthAdjust="spacingAndGlyphs" fill="#4a4a4a" stroke="#4a4a4a" stroke-width="0.25">100</text>
<rect x="432.1" y="604.5" width="5.0" height="5.0" fill="#00ffff" stroke="#1f5555" stroke-width="1.0"/>
<rect x="435.4" y="596.3" width="5.0" height="5.0" fill="#00ffff" stroke="#1f5555" stroke-width="1.0"/>
<rect x="455" y="593.9" width="5.0" height="5.0" fill="#0000ff" stroke="#1a1a4a" stroke-width="1.0"/>
<rect x="460.1" y="592.7" width="5.0" height="5.0" fill="#00ff00" stroke="#1f551f" stroke-width="1.0"/>
<rect x="473.3" y="561.6" width="5.0" height="5.0" fill="#00ffff" stroke="#1f5555" stroke-width="1.0"/>
<rect x="485" y="562.6" width="5.0" height="5.0" fill="#00ffff" stroke="#1f5555" stroke-width="1.0"/>
<rect x="487.3" y="554.7" width="5.0" height="5.0" fill="#00ffff" stroke="#1f5555" stroke-width="1.0"/>
<rect x="486.4" y="544.1" width="5.0" height="5.0" fill="#00ffff" stroke="#1f5555" stroke-width="1.0"/>
<rect x="507.4" y="554.2" width="5.0" height="5.0" fill="#00ff00" stroke="#1f551f" stroke-width="1.0"/>
<rect x="504.8" y="534.1" width="5.0" height="5.0" fill="#00ffff" stroke="#1f5555" stroke-width="1.0"/>
<rect x="511.8" y="521.3" width="5.0" height="5.0" fill="#ffff00" stroke="#55551f" stroke-width="1.0"/>
<rect x="514.4" y="522.3" width="5.0" height="5.0" fill="#ffff00" stroke="#55551f" stroke-width="1.0"/>
<rect x="522.8" y="516.6" width="5.0" height="5.0" fill="#00ffff" stroke="#1f5555" stroke-width="1.0"/>
<rect x="543.7" y="507.5" width="5.0" height="5.0" fill="#00ff00" stroke="#1f551f" stroke-width="1.0"/>
<rect x="542.1" y="499.6" width="5.0" height="5.0" fill="#00ff00" stroke="#1f551f" stroke-width="1.0"/>
<rect x="553" y="502" width="5.0" height="5.0" fill="#00ff00" stroke="#1f551f" stroke-width="1.0"/>
<rect x="546.5" y="495" width="5.0" height="5.0" fill="#ffff00" stroke="#55551f" stroke-width="1.0"/>
<rect x="545.6" y="487.3" width="5.0" height="5.0" fill="#ffff00" stroke="#55551f" stroke-width="1.0"/>
<rect x="541.2" y="482.9" width="5.0" height="5.0" fill="#ffff00" stroke="#55551f" stroke-width="1.0"/>
<rect x="565" y="483.7" width="5.0" height="5.0" fill="#00ff00" stroke="#1f551f" stroke-width="1.0"/>
<rect x="569.5" y="470.3" width="5.0" height="5.0" fill="#ffff00" stroke="#55551f" stroke-width="1.0"/>
<rect x="577.6" y="463.4" width="5.0" height="5.0" fill="#ffff00" stroke="#55551f" stroke-width="1.0"/>
<rect x="596.6" y="444.1" width="5.0" height="5.0" fill="#ffff00" stroke="#55551f" stroke-width="1.0"/>
<rect x="608" y="446.9" width="5.0" height="5.0" fill="#ff0000" stroke="#551f1f" stroke-width="1.0"/>
<rect x="645.5" y="396.4" width="5.0" height="5.0" fill="#00ff00" stroke="#1f551f" stroke-width="1.0"/>
<line x1="413.9" y1="632.8" x2="668" y2="379.4" stroke="#474747" stroke-width="1.1" />
<text x="639.7" y="401" font-size="6.2" fill="#555" >6</text>
<rect x="400.6" y="364.9" width="281.3" height="282.2" fill="none" stroke="#6e6e6e" stroke-width="1.4"/>
<text x="488.74" y="359.6" font-size="12" fill="#333" textLength="103.14" lengthAdjust="spacingAndGlyphs">Predicted vs. Actual</text>
<text x="459.29" y="682.1" font-size="14.0" font-weight="bold" fill="#000" textLength="179.08" lengthAdjust="spacingAndGlyphs">Actual Degradation Efficiency</text>
<text transform="translate(363.9,607.95) rotate(-90)" x="0" y="0" font-size="12.5" font-weight="bold" fill="#000" textLength="199.12" lengthAdjust="spacingAndGlyphs">Predicted Degradation Efficiency</text>
<text x="369.26" y="360.2" font-size="14.6" font-weight="bold" fill="#000" textLength="19.09" lengthAdjust="spacingAndGlyphs">(d)</text>
<line x1="49.6" y1="720.3" x2="56.8" y2="720.3" stroke="#6e6e6e" stroke-width="1.2" />
<text x="47.2" y="722.73" font-size="8.0" text-anchor="end" textLength="4.26" lengthAdjust="spacingAndGlyphs" fill="#4a4a4a" stroke="#4a4a4a" stroke-width="0.25">2</text>
<line x1="49.6" y1="761.4" x2="56.8" y2="761.4" stroke="#6e6e6e" stroke-width="1.2" />
<text x="47.2" y="763.83" font-size="8.0" text-anchor="end" textLength="14.01" lengthAdjust="spacingAndGlyphs" fill="#4a4a4a" stroke="#4a4a4a" stroke-width="0.25">1.95</text>
<line x1="49.6" y1="802.5" x2="56.8" y2="802.5" stroke="#6e6e6e" stroke-width="1.2" />
<text x="47.2" y="804.93" font-size="8.0" text-anchor="end" textLength="10.01" lengthAdjust="spacingAndGlyphs" fill="#4a4a4a" stroke="#4a4a4a" stroke-width="0.25">1.9</text>
<line x1="49.6" y1="843.6" x2="56.8" y2="843.6" stroke="#6e6e6e" stroke-width="1.2" />
<text x="47.2" y="846.03" font-size="8.0" text-anchor="end" textLength="14.01" lengthAdjust="spacingAndGlyphs" fill="#4a4a4a" stroke="#4a4a4a" stroke-width="0.25">1.85</text>
<line x1="49.6" y1="884.7" x2="56.8" y2="884.7" stroke="#6e6e6e" stroke-width="1.2" />
<text x="47.2" y="887.13" font-size="8.0" text-anchor="end" textLength="10.01" lengthAdjust="spacingAndGlyphs" fill="#4a4a4a" stroke="#4a4a4a" stroke-width="0.25">1.8</text>
<line x1="49.6" y1="925.8" x2="56.8" y2="925.8" stroke="#6e6e6e" stroke-width="1.2" />
<text x="47.2" y="928.23" font-size="8.0" text-anchor="end" textLength="14.01" lengthAdjust="spacingAndGlyphs" fill="#4a4a4a" stroke="#4a4a4a" stroke-width="0.25">1.75</text>
<line x1="49.6" y1="966.9" x2="56.8" y2="966.9" stroke="#6e6e6e" stroke-width="1.2" />
<text x="47.2" y="969.33" font-size="8.0" text-anchor="end" textLength="10.01" lengthAdjust="spacingAndGlyphs" fill="#4a4a4a" stroke="#4a4a4a" stroke-width="0.25">1.7</text>
<line x1="70.81" y1="981.1" x2="70.81" y2="987.7" stroke="#6e6e6e" stroke-width="1.2" />
<text x="70.81" y="997.88" font-size="8.0" text-anchor="middle" textLength="6.4" lengthAdjust="spacingAndGlyphs" fill="#4a4a4a" stroke="#4a4a4a" stroke-width="0.25">-3</text>
<line x1="113.04" y1="981.1" x2="113.04" y2="987.7" stroke="#6e6e6e" stroke-width="1.2" />
<text x="113.04" y="997.88" font-size="8.0" text-anchor="middle" textLength="6.4" lengthAdjust="spacingAndGlyphs" fill="#4a4a4a" stroke="#4a4a4a" stroke-width="0.25">-2</text>
<line x1="155.27" y1="981.1" x2="155.27" y2="987.7" stroke="#6e6e6e" stroke-width="1.2" />
<text x="155.27" y="997.88" font-size="8.0" text-anchor="middle" textLength="6.4" lengthAdjust="spacingAndGlyphs" fill="#4a4a4a" stroke="#4a4a4a" stroke-width="0.25">-1</text>
<line x1="197.5" y1="981.1" x2="197.5" y2="987.7" stroke="#6e6e6e" stroke-width="1.2" />
<text x="197.5" y="997.88" font-size="8.0" text-anchor="middle" textLength="4" lengthAdjust="spacingAndGlyphs" fill="#4a4a4a" stroke="#4a4a4a" stroke-width="0.25">0</text>
<line x1="239.73" y1="981.1" x2="239.73" y2="987.7" stroke="#6e6e6e" stroke-width="1.2" />
<text x="239.73" y="997.88" font-size="8.0" text-anchor="middle" textLength="4" lengthAdjust="spacingAndGlyphs" fill="#4a4a4a" stroke="#4a4a4a" stroke-width="0.25">1</text>
<line x1="281.96" y1="981.1" x2="281.96" y2="987.7" stroke="#6e6e6e" stroke-width="1.2" />
<text x="281.96" y="997.88" font-size="8.0" text-anchor="middle" textLength="4" lengthAdjust="spacingAndGlyphs" fill="#4a4a4a" stroke="#4a4a4a" stroke-width="0.25">2</text>
<line x1="324.19" y1="981.1" x2="324.19" y2="987.7" stroke="#6e6e6e" stroke-width="1.2" />
<text x="324.19" y="997.88" font-size="8.0" text-anchor="middle" textLength="4" lengthAdjust="spacingAndGlyphs" fill="#4a4a4a" stroke="#4a4a4a" stroke-width="0.25">3</text>
<polyline points="70.81,835.48 77.31,839.65 83.8,843.75 90.3,847.77 96.8,851.73 103.29,855.62 109.79,859.43 116.29,863.18 122.79,866.85 129.28,870.46 135.78,873.99 142.28,877.45 148.77,880.85 155.27,884.17 161.77,887.42 168.26,890.6 174.76,893.72 181.26,896.76 187.75,899.73 194.25,902.63 200.75,905.46 207.25,908.22 213.74,910.91 220.24,913.53 226.74,916.08 233.23,918.56 239.73,920.97 246.23,923.31 252.72,925.58 259.22,927.78 265.72,929.9 272.21,931.96 278.71,933.95 285.21,935.87 291.71,937.71 298.2,939.49 304.7,941.19 311.2,942.83 317.69,944.4 324.19,945.89" fill="none" stroke="#5a5a5a" stroke-width="1.1"/>
<line x1="239.73" y1="920.97" x2="239.73" y2="981.1" stroke="#8585ff" stroke-width="1.4" />
<line x1="324.19" y1="706.8" x2="324.19" y2="981.1" stroke="#2fb52f" stroke-width="1.5" />
<rect x="56.8" y="706.8" width="281.5" height="274.3" fill="none" stroke="#6e6e6e" stroke-width="1.4"/>
<text x="104.94" y="701.5" font-size="12" fill="#333" textLength="183.18" lengthAdjust="spacingAndGlyphs">Box-Cox Plot for Power Transforms</text>
<text x="169.18" y="1014.3" font-size="14.0" font-weight="bold" fill="#000" textLength="47.04" lengthAdjust="spacingAndGlyphs">Lambda</text>
<text transform="translate(19.1,896.18) rotate(-90)" x="0" y="0" font-size="12.5" font-weight="bold" fill="#000" textLength="89.87" lengthAdjust="spacingAndGlyphs">Ln (ResidualSS)</text>
<text x="13.58" y="718.9" font-size="14.6" font-weight="bold" fill="#000" textLength="17.75" lengthAdjust="spacingAndGlyphs">(e)</text>
<line x1="397.4" y1="718.2" x2="403.9" y2="718.2" stroke="#6e6e6e" stroke-width="1.2" />
<text x="394.4" y="720.63" font-size="8.0" text-anchor="end" textLength="4.26" lengthAdjust="spacingAndGlyphs" fill="#4a4a4a" stroke="#4a4a4a" stroke-width="0.25">1</text>
<line x1="397.4" y1="768.3" x2="403.9" y2="768.3" stroke="#6e6e6e" stroke-width="1.2" />
<text x="394.4" y="770.73" font-size="8.0" text-anchor="end" textLength="10.01" lengthAdjust="spacingAndGlyphs" fill="#4a4a4a" stroke="#4a4a4a" stroke-width="0.25">0.8</text>
<line x1="397.4" y1="818.4" x2="403.9" y2="818.4" stroke="#6e6e6e" stroke-width="1.2" />
<text x="394.4" y="820.83" font-size="8.0" text-anchor="end" textLength="10.01" lengthAdjust="spacingAndGlyphs" fill="#4a4a4a" stroke="#4a4a4a" stroke-width="0.25">0.6</text>
<line x1="397.4" y1="868.5" x2="403.9" y2="868.5" stroke="#6e6e6e" stroke-width="1.2" />
<text x="394.4" y="870.93" font-size="8.0" text-anchor="end" textLength="10.01" lengthAdjust="spacingAndGlyphs" fill="#4a4a4a" stroke="#4a4a4a" stroke-width="0.25">0.4</text>
<line x1="397.4" y1="918.6" x2="403.9" y2="918.6" stroke="#6e6e6e" stroke-width="1.2" />
<text x="394.4" y="921.03" font-size="8.0" text-anchor="end" textLength="10.01" lengthAdjust="spacingAndGlyphs" fill="#4a4a4a" stroke="#4a4a4a" stroke-width="0.25">0.2</text>
<line x1="397.4" y1="968.7" x2="403.9" y2="968.7" stroke="#6e6e6e" stroke-width="1.2" />
<text x="394.4" y="971.13" font-size="8.0" text-anchor="end" textLength="4.26" lengthAdjust="spacingAndGlyphs" fill="#4a4a4a" stroke="#4a4a4a" stroke-width="0.25">0</text>
<line x1="417.4" y1="982.3" x2="417.4" y2="988.9" stroke="#6e6e6e" stroke-width="1.2" />
<text x="417.4" y="998.98" font-size="8.0" text-anchor="middle" textLength="4" lengthAdjust="spacingAndGlyphs" fill="#4a4a4a" stroke="#4a4a4a" stroke-width="0.25">1</text>
<line x1="426.03" y1="982.3" x2="426.03" y2="986.1" stroke="#6e6e6e" stroke-width="1.0" />
<line x1="434.66" y1="982.3" x2="434.66" y2="986.1" stroke="#6e6e6e" stroke-width="1.0" />
<line x1="443.29" y1="982.3" x2="443.29" y2="986.1" stroke="#6e6e6e" stroke-width="1.0" />
<line x1="451.92" y1="982.3" x2="451.92" y2="988.9" stroke="#6e6e6e" stroke-width="1.2" />
<text x="451.92" y="998.98" font-size="8.0" text-anchor="middle" textLength="4" lengthAdjust="spacingAndGlyphs" fill="#4a4a4a" stroke="#4a4a4a" stroke-width="0.25">5</text>
<line x1="460.55" y1="982.3" x2="460.55" y2="986.1" stroke="#6e6e6e" stroke-width="1.0" />
<line x1="469.18" y1="982.3" x2="469.18" y2="986.1" stroke="#6e6e6e" stroke-width="1.0" />
<line x1="477.81" y1="982.3" x2="477.81" y2="986.1" stroke="#6e6e6e" stroke-width="1.0" />
<line x1="486.44" y1="982.3" x2="486.44" y2="988.9" stroke="#6e6e6e" stroke-width="1.2" />
<text x="486.44" y="998.98" font-size="8.0" text-anchor="middle" textLength="4" lengthAdjust="spacingAndGlyphs" fill="#4a4a4a" stroke="#4a4a4a" stroke-width="0.25">9</text>
<line x1="495.07" y1="982.3" x2="495.07" y2="986.1" stroke="#6e6e6e" stroke-width="1.0" />
<line x1="503.7" y1="982.3" x2="503.7" y2="986.1" stroke="#6e6e6e" stroke-width="1.0" />
<line x1="512.33" y1="982.3" x2="512.33" y2="986.1" stroke="#6e6e6e" stroke-width="1.0" />
<line x1="520.96" y1="982.3" x2="520.96" y2="988.9" stroke="#6e6e6e" stroke-width="1.2" />
<text x="520.96" y="998.98" font-size="8.0" text-anchor="middle" textLength="8.01" lengthAdjust="spacingAndGlyphs" fill="#4a4a4a" stroke="#4a4a4a" stroke-width="0.25">13</text>
<line x1="529.59" y1="982.3" x2="529.59" y2="986.1" stroke="#6e6e6e" stroke-width="1.0" />
<line x1="538.22" y1="982.3" x2="538.22" y2="986.1" stroke="#6e6e6e" stroke-width="1.0" />
<line x1="546.85" y1="982.3" x2="546.85" y2="986.1" stroke="#6e6e6e" stroke-width="1.0" />
<line x1="555.48" y1="982.3" x2="555.48" y2="988.9" stroke="#6e6e6e" stroke-width="1.2" />
<text x="555.48" y="998.98" font-size="8.0" text-anchor="middle" textLength="8.01" lengthAdjust="spacingAndGlyphs" fill="#4a4a4a" stroke="#4a4a4a" stroke-width="0.25">17</text>
<line x1="564.11" y1="982.3" x2="564.11" y2="986.1" stroke="#6e6e6e" stroke-width="1.0" />
<line x1="572.74" y1="982.3" x2="572.74" y2="986.1" stroke="#6e6e6e" stroke-width="1.0" />
<line x1="581.37" y1="982.3" x2="581.37" y2="986.1" stroke="#6e6e6e" stroke-width="1.0" />
<line x1="590" y1="982.3" x2="590" y2="988.9" stroke="#6e6e6e" stroke-width="1.2" />
<text x="590" y="998.98" font-size="8.0" text-anchor="middle" textLength="8.01" lengthAdjust="spacingAndGlyphs" fill="#4a4a4a" stroke="#4a4a4a" stroke-width="0.25">21</text>
<line x1="598.63" y1="982.3" x2="598.63" y2="986.1" stroke="#6e6e6e" stroke-width="1.0" />
<line x1="607.26" y1="982.3" x2="607.26" y2="986.1" stroke="#6e6e6e" stroke-width="1.0" />
<line x1="615.89" y1="982.3" x2="615.89" y2="986.1" stroke="#6e6e6e" stroke-width="1.0" />
<line x1="624.52" y1="982.3" x2="624.52" y2="988.9" stroke="#6e6e6e" stroke-width="1.2" />
<text x="624.52" y="998.98" font-size="8.0" text-anchor="middle" textLength="8.01" lengthAdjust="spacingAndGlyphs" fill="#4a4a4a" stroke="#4a4a4a" stroke-width="0.25">25</text>
<line x1="633.15" y1="982.3" x2="633.15" y2="986.1" stroke="#6e6e6e" stroke-width="1.0" />
<line x1="641.78" y1="982.3" x2="641.78" y2="986.1" stroke="#6e6e6e" stroke-width="1.0" />
<line x1="650.41" y1="982.3" x2="650.41" y2="986.1" stroke="#6e6e6e" stroke-width="1.0" />
<line x1="659.04" y1="982.3" x2="659.04" y2="988.9" stroke="#6e6e6e" stroke-width="1.2" />
<text x="659.04" y="998.98" font-size="8.0" text-anchor="middle" textLength="8.01" lengthAdjust="spacingAndGlyphs" fill="#4a4a4a" stroke="#4a4a4a" stroke-width="0.25">29</text>
<line x1="403.9" y1="718.2" x2="681.5" y2="718.2" stroke="#ee3535" stroke-width="1.6" />
<text x="407.2" y="715.82" font-size="8.1" textLength="3.6" lengthAdjust="spacingAndGlyphs" fill="#4a4a4a" stroke="#4a4a4a" stroke-width="0.25">1</text>
<text x="407" y="965.82" font-size="8.1" textLength="4.4" lengthAdjust="spacingAndGlyphs" fill="#4a4a4a" stroke="#4a4a4a" stroke-width="0.25">0</text>
<rect x="415.1" y="908.4" width="5.0" height="5.0" fill="#00ffff" stroke="#1f5555" stroke-width="1.0"/>
<rect x="423.8" y="962.7" width="5.0" height="5.0" fill="#00ffff" stroke="#1f5555" stroke-width="1.0"/>
<rect x="432.4" y="966.2" width="5.0" height="5.0" fill="#00ff00" stroke="#1f551f" stroke-width="1.0"/>
<rect x="441" y="890.9" width="5.0" height="5.0" fill="#00ff00" stroke="#1f551f" stroke-width="1.0"/>
<rect x="449.5" y="790.3" width="5.0" height="5.0" fill="#00ff00" stroke="#1f551f" stroke-width="1.0"/>
<rect x="458.2" y="932" width="5.0" height="5.0" fill="#ffff00" stroke="#55551f" stroke-width="1.0"/>
<rect x="466.8" y="945.3" width="5.0" height="5.0" fill="#00ff00" stroke="#1f551f" stroke-width="1.0"/>
<rect x="475.6" y="966.2" width="5.0" height="5.0" fill="#00ff00" stroke="#1f551f" stroke-width="1.0"/>
<rect x="484" y="932.7" width="5.0" height="5.0" fill="#ffff00" stroke="#55551f" stroke-width="1.0"/>
<rect x="492.7" y="919.1" width="5.0" height="5.0" fill="#00ffff" stroke="#1f5555" stroke-width="1.0"/>
<rect x="501.3" y="966.2" width="5.0" height="5.0" fill="#00ff00" stroke="#1f551f" stroke-width="1.0"/>
<rect x="509.9" y="963.2" width="5.0" height="5.0" fill="#ffff00" stroke="#55551f" stroke-width="1.0"/>
<rect x="518.5" y="926.9" width="5.0" height="5.0" fill="#00ff00" stroke="#1f551f" stroke-width="1.0"/>
<rect x="527.1" y="966.2" width="5.0" height="5.0" fill="#ffff00" stroke="#55551f" stroke-width="1.0"/>
<rect x="535.5" y="966.2" width="5.0" height="5.0" fill="#00ff00" stroke="#1f551f" stroke-width="1.0"/>
<rect x="544.5" y="829.6" width="5.0" height="5.0" fill="#ffff00" stroke="#55551f" stroke-width="1.0"/>
<rect x="553" y="950.9" width="5.0" height="5.0" fill="#00ffff" stroke="#1f5555" stroke-width="1.0"/>
<rect x="561.6" y="917.5" width="5.0" height="5.0" fill="#00ff00" stroke="#1f551f" stroke-width="1.0"/>
<rect x="570.4" y="966.2" width="5.0" height="5.0" fill="#00ff00" stroke="#1f551f" stroke-width="1.0"/>
<rect x="578.6" y="966.2" width="5.0" height="5.0" fill="#00ff00" stroke="#1f551f" stroke-width="1.0"/>
<rect x="587.4" y="944.7" width="5.0" height="5.0" fill="#0000ff" stroke="#1a1a4a" stroke-width="1.0"/>
<rect x="596.3" y="952" width="5.0" height="5.0" fill="#ffff00" stroke="#55551f" stroke-width="1.0"/>
<rect x="604.3" y="966.2" width="5.0" height="5.0" fill="#ffff00" stroke="#55551f" stroke-width="1.0"/>
<rect x="613.6" y="965.1" width="5.0" height="5.0" fill="#ffff00" stroke="#55551f" stroke-width="1.0"/>
<rect x="622.2" y="966.2" width="5.0" height="5.0" fill="#00ffff" stroke="#1f5555" stroke-width="1.0"/>
<rect x="630.4" y="966.2" width="5.0" height="5.0" fill="#00ff00" stroke="#1f551f" stroke-width="1.0"/>
<rect x="639.3" y="891.7" width="5.0" height="5.0" fill="#ff0000" stroke="#551f1f" stroke-width="1.0"/>
<rect x="648" y="952" width="5.0" height="5.0" fill="#00ffff" stroke="#1f5555" stroke-width="1.0"/>
<rect x="656.2" y="942.3" width="5.0" height="5.0" fill="#00ffff" stroke="#1f5555" stroke-width="1.0"/>
<rect x="665" y="962" width="5.0" height="5.0" fill="#00ffff" stroke="#1f5555" stroke-width="1.0"/>
<line x1="403.9" y1="968.7" x2="681.5" y2="968.7" stroke="#222" stroke-width="1.3" />
<rect x="403.9" y="704.4" width="277.6" height="277.9" fill="none" stroke="#6e6e6e" stroke-width="1.4"/>
<text x="500.52" y="698.9" font-size="12" fill="#333" textLength="82.09" lengthAdjust="spacingAndGlyphs">Cook's Distance</text>
<text x="499.55" y="1018.2" font-size="14.0" font-weight="bold" fill="#000" textLength="76.65" lengthAdjust="spacingAndGlyphs">Run Number</text>
<text transform="translate(367.2,902.61) rotate(-90)" x="0" y="0" font-size="12.5" font-weight="bold" fill="#000" textLength="95.83" lengthAdjust="spacingAndGlyphs">Cook’s Distance</text>
<text x="368.79" y="717.7" font-size="14.6" font-weight="bold" fill="#000" textLength="16.22" lengthAdjust="spacingAndGlyphs">(f)</text>
</svg>
</body></html>
